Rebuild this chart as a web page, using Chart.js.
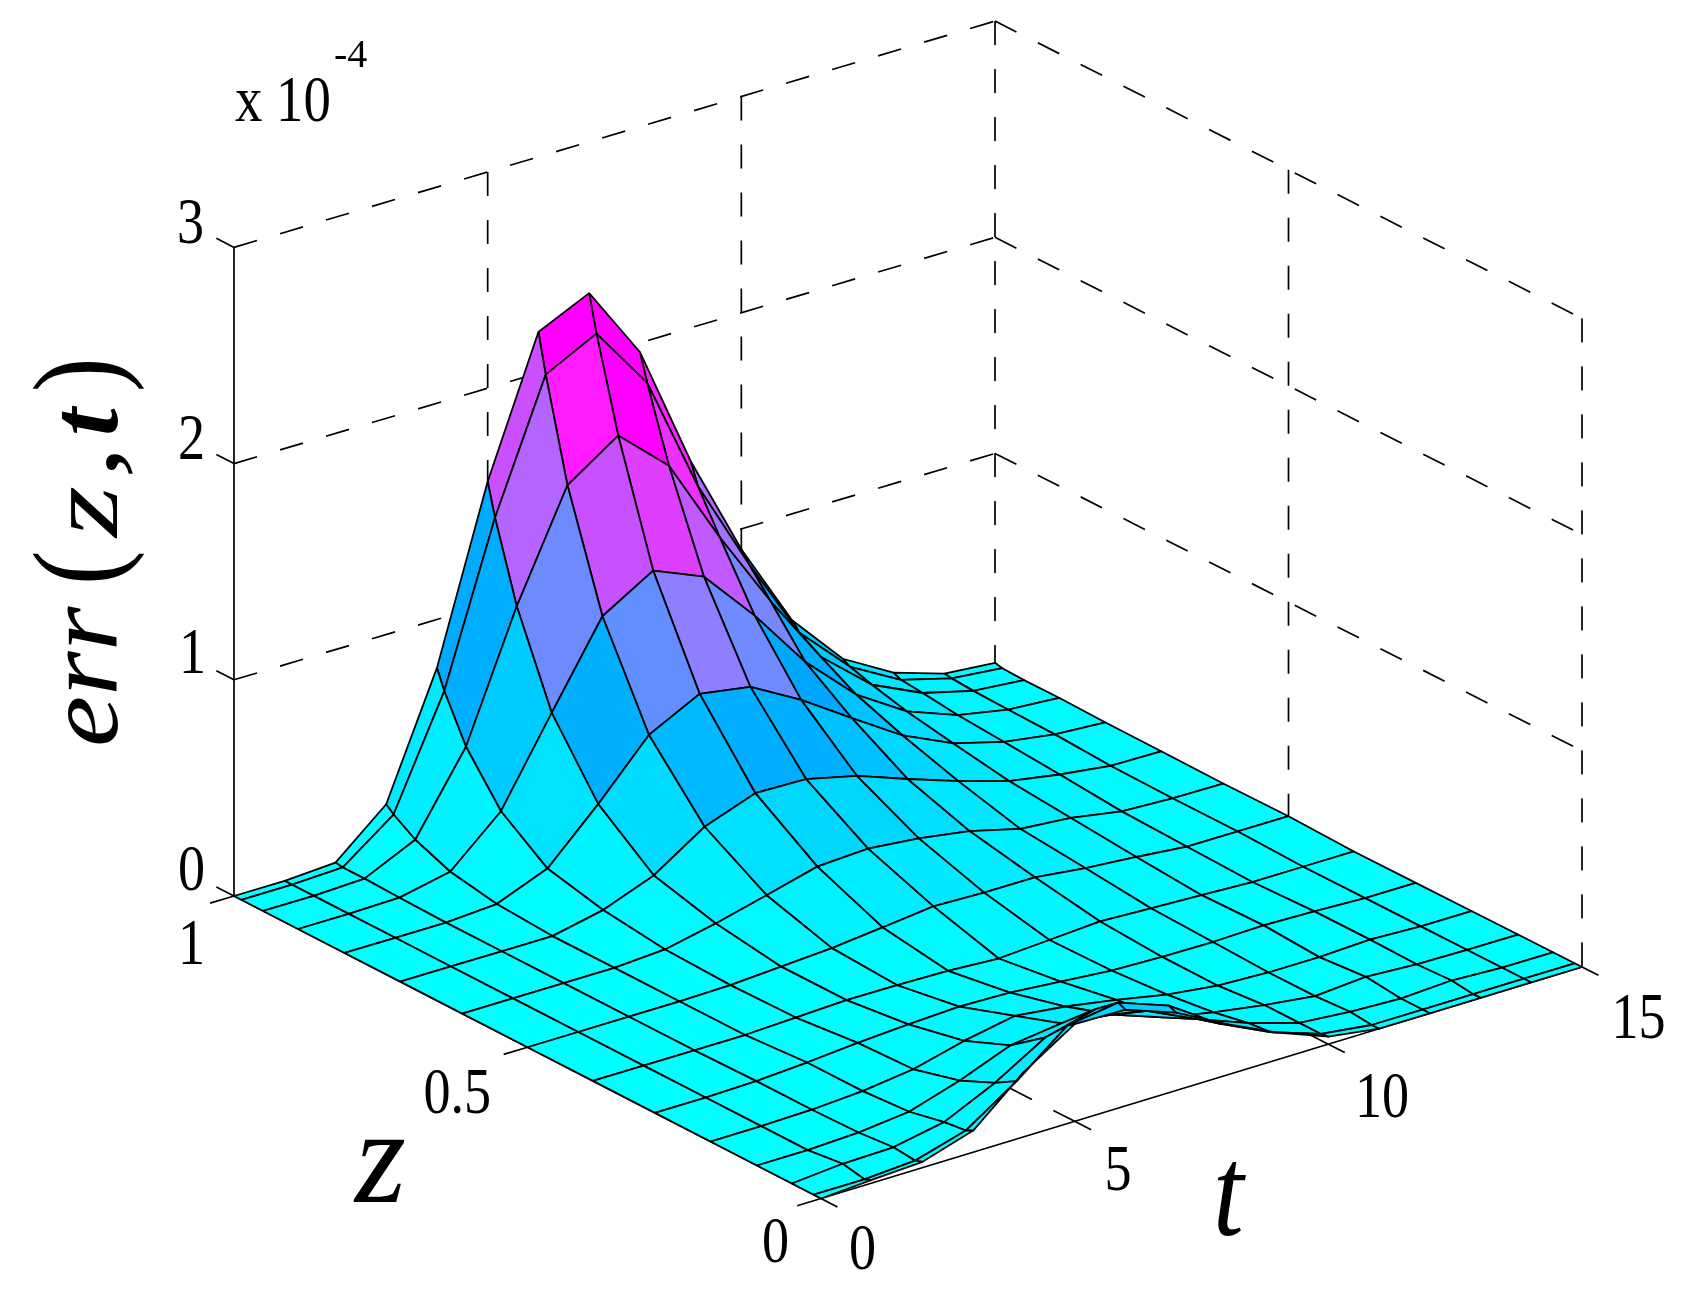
<!DOCTYPE html>
<html><head><meta charset="utf-8">
<style>html,body{margin:0;padding:0;background:#fff}canvas{display:block}</style>
<script src="https://cdn.jsdelivr.net/npm/chart.js@4"></script>
</head><body><canvas id="c" width="1688" height="1298"></canvas>
<script>
// time nodes
const T_NODES=[0,1,2,3,4,5,6,7,8,9,10,11,12,13,14,15];
// z nodes, from z=1 down to z=0
const Z_NODES=[1,.9875,.9505,.8909,.8117,.7169,.6113,.5,.3887,.2831,.1883,.1091,.0495,.0125,0];
// err(z,t) in units of 1e-4, one row per z node
const ERR_Z00=[0,0,.015,.215,.776,1.568,2.19,2.30,1.958,1.384,.906,.508,.26,.126,.052,.032];
const ERR_Z01=[0,0,.01,.185,.686,1.418,2.01,2.13,1.832,1.284,.856,.467,.24,.11,.047,.024];
const ERR_Z02=[0,0,.01,.12,.48,1.06,1.55,1.71,1.50,1.10,.735,.406,.208,.10,.04,.02];
const ERR_Z03=[0,0,.005,.055,.265,.65,1.027,1.168,1.07,.82,.535,.315,.167,.08,.035,.02];
const ERR_Z04=[0,0,0,.016,.11,.338,.588,.708,.67,.54,.385,.235,.128,.065,.03,.015];
const ERR_Z05=[0,0,0,0,.05,.14,.295,.38,.375,.32,.235,.155,.085,.045,.015,.012];
const ERR_Z06=[0,0,0,0,.015,.065,.125,.187,.2,.177,.14,.08,.06,.02,.01,.008];
const ERR_Z07=[0,0,0,0,.005,.02,.035,.06,.087,.08,.08,.052,.033,.01,.01,.01];
const ERR_Z08=[0,0,0,0,.01,.02,.018,.014,0,.015,.03,.02,.01,0,0,0];
const ERR_Z09=[0,0,.005,.02,.04,.055,.066,.06,.04,.02,.012,.01,.016,.01,0,0];
const ERR_Z10=[0,0,.005,.02,.05,.11,.155,.127,.087,.04,.01,0,0,.01,0,0];
const ERR_Z11=[0,0,.01,.035,.108,.2,.23,.2,.115,.067,.03,0,.018,.005,0,0];
const ERR_Z12=[0,.02,.025,.07,.18,.32,.38,.3,.19,.1,.03,.01,0,.012,0,0];
const ERR_Z13=[0,0,.015,.083,.24,.425,.46,.375,.22,.11,.03,0,0,0,0,0];
const ERR_Z14=[0,.015,.027,.1,.30,.45,.445,.36,.235,.125,.035,0,0,0,0,0];
const ERR_ROWS=[ERR_Z00,ERR_Z01,ERR_Z02,ERR_Z03,ERR_Z04,ERR_Z05,ERR_Z06,ERR_Z07,ERR_Z08,ERR_Z09,ERR_Z10,ERR_Z11,ERR_Z12,ERR_Z13,ERR_Z14];
// axis ticks
const T_TICKS=[0,5,10,15];
const Z_TICKS=[0,.5,1];
const V_TICKS=[0,1,2,3];
// colour map: value -> rgb
const CMAP_VALUES=[0,.26,.475,.645,.77,.85,1.02,1.05,1.16,1.41,1.56,1.7,2.0,2.12];
const CMAP_R=[0,0,0,0,0,0,95,106,140,179,200,221,255,255];
const CMAP_G=[255,228,204,176,170,165,144,140,128,102,80,64,30,0];
const CMAP_B=[255,255,255,255,255,255,255,255,255,255,255,255,255,255];

function colour(v){
  let i=0;while(i<CMAP_VALUES.length-2&&v>CMAP_VALUES[i+1])i++;
  let f=(v-CMAP_VALUES[i])/(CMAP_VALUES[i+1]-CMAP_VALUES[i]);f=Math.max(0,Math.min(1,f));
  const m=a=>Math.round(a[i]+(a[i+1]-a[i])*f);
  return `rgb(${m(CMAP_R)},${m(CMAP_G)},${m(CMAP_B)})`;
}
// view of the 3D box onto the chart's x/y scales
const P=(t,z,v)=>({x:821+t*761/15-z*587,y:1198.5-t*231.5/15-z*302.5+t/15*z*5.2-v*216.2});

const back=[];// datasets, painted first to last
const line=(pts,dash,w)=>back.push({type:'scatter',showLine:true,data:pts,borderColor:'#000',borderWidth:w||1.7,borderDash:dash||[],pointRadius:0,fill:false,tension:0,clip:false});
const DASH=[24,24];
const vMax=V_TICKS[V_TICKS.length-1];
// walls
V_TICKS.slice(1).forEach(v=>{line([P(0,1,v),P(15,1,v)],DASH);line([P(15,1,v),P(15,0,v)],DASH);});
T_TICKS.slice(1).forEach(t=>line([P(t,1,vMax),P(t,1,0)],DASH));
Z_TICKS.slice(0,2).forEach(z=>line([P(15,z,vMax),P(15,z,0)],DASH));
// floor grid
T_TICKS.slice(1,3).forEach(t=>line([P(t,0,0),P(t,1,0)],DASH));
line([P(0,.5,0),P(15,.5,0)],DASH);
// axes and ticks
line([P(0,1,0),P(0,1,vMax)]);
line([P(0,1,0),P(0,0,0)]);
line([P(0,0,0),P(15,0,0)]);
V_TICKS.forEach(v=>line([P(0,1,v),P(0,1.03,v)]));
T_TICKS.forEach(t=>line([P(t,0,0),P(t,-.028,0)]));
Z_TICKS.forEach(z=>line([P(0,z,0),P(-.47,z,0)]));
// surface, far corner first
for(let k=0;k<Z_NODES.length-1;k++){
  for(let j=T_NODES.length-2;j>=0;j--){
    const t0=T_NODES[j],t1=T_NODES[j+1],z0=Z_NODES[k],z1=Z_NODES[k+1];
    const r0=ERR_ROWS[k],r1=ERR_ROWS[k+1];
    const a=P(t0,z0,r0[j]);
    back.push({type:'scatter',showLine:true,data:[a,P(t1,z0,r0[j+1]),P(t1,z1,r1[j+1]),P(t0,z1,r1[j]),a],
      borderColor:'#000',borderWidth:1.8,backgroundColor:colour(r0[j]),fill:'shape',pointRadius:0,tension:0,clip:false,borderJoinStyle:'round'});
  }
}
// chart.js paints the first dataset on top
const datasets=back.slice().reverse();

const SERIF='"Liberation Serif"';
// text: string, left x, baseline y, font px, horizontal squeeze, style
const TEXTS=[
 ['x 10',235,121,66,.83,''],['-4',334,67,40,1,''],
 ['3',177,243,66,.82,''],['2',178,458.6,66,.82,''],['1',179,672.6,66,.82,''],['0',178,890,66,.82,''],
 ['1',178,963.6,66,.82,''],['0.5',423.5,1112.6,66,.82,''],['0',762,1261.6,66,.82,''],
 ['0',849,1268.6,66,.82,''],['5',1104.5,1190,66,.82,''],['10',1355,1117,66,.82,''],['15',1611.5,1038,66,.82,''],
 ['z',355,1201.5,135,.97,'italic'],['t',1213,1235,130,.85,'italic']
];
// rotated y label pieces: string, bottom y, baseline x, font, squeeze along baseline, squeeze across baseline, style
const YLABEL=[
 ['err',747,117,115,1,.9,'italic'],['(',585,118,133,.78,.93,''],['z',537,117,115,1.14,.87,'italic'],
 [',',478,117,115,1.1,.9,'italic'],['t',436,117,100,1,.98,'italic bold'],[')',392,118,133,.78,.93,'']
];
const textPlugin={id:'texts',afterDraw(ch){
  const c=ch.ctx,sx=ch.scales.x,sy=ch.scales.y;
  c.save();c.fillStyle='#000';c.textBaseline='alphabetic';c.textAlign='left';
  TEXTS.forEach(([s,x,y,f,q,st])=>{c.save();c.translate(sx.getPixelForValue(x),sy.getPixelForValue(y));c.scale(q,1);
    c.font=`${st} ${f}px ${SERIF}`;c.fillText(s,0,0);c.restore();});
  YLABEL.forEach(([s,y,x,f,a,q,st])=>{c.save();c.translate(sx.getPixelForValue(x),sy.getPixelForValue(y));c.rotate(-Math.PI/2);c.scale(a,q);
    c.font=`${st} ${f}px ${SERIF}`;c.fillText(s,0,0);c.restore();});
  c.restore();
}};
new Chart(document.getElementById('c'),{type:'scatter',data:{datasets},plugins:[textPlugin],options:{
  responsive:false,animation:false,devicePixelRatio:1,
  layout:{padding:0},
  plugins:{legend:{display:false},tooltip:{enabled:false},title:{display:false}},
  scales:{x:{type:'linear',min:0,max:1688,display:false},y:{type:'linear',min:0,max:1298,reverse:true,display:false}}
}});
</script></body></html>
